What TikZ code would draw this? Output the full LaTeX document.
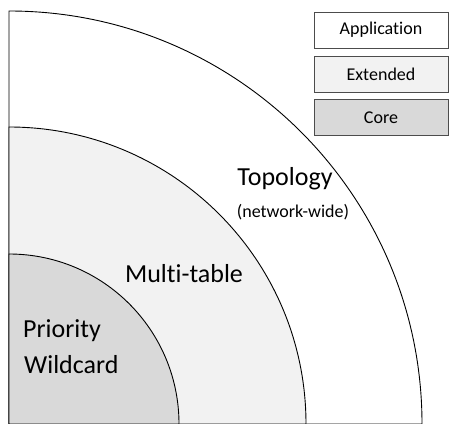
\documentclass[tikz,border=0pt]{standalone}
\usepackage{fontspec}
\setmainfont{Carlito}[Ligatures=NoCommon]
\usetikzlibrary{positioning}

\definecolor{extgray}{HTML}{F2F2F2}
\definecolor{coregray}{HTML}{D9D9D9}

\tikzset{
  ring/.style={draw=black, line width=0.9pt},
  bigtext/.style={font=\fontsize{26}{30}\selectfont, inner sep=0pt},
  smalltext/.style={font=\fontsize{18}{21}\selectfont, inner sep=0pt},
  legendbox/.style={draw=black!70, line width=0.7pt, minimum width=134pt,
    minimum height=36pt, inner sep=0pt, font=\fontsize{18}{21}\selectfont}
}

\begin{document}
\begin{tikzpicture}[x=1pt,y=1pt]
    \useasboundingbox (0,0) rectangle (449,423);
    \clip (0,0) rectangle (449,423);
    % quarter rings, outer first
    \filldraw [ring, fill=white] (9,-1) -- (9,412) arc (90:0:413) -- cycle;
    \filldraw [ring, fill=extgray] (9,-1) -- (9,296) arc (90:0:297) -- cycle;
    \filldraw [ring, fill=coregray] (9,-1) -- (9,169) arc (90:0:170) -- cycle;
    % ring labels
    \node [bigtext, anchor=base] (topo) at (285,237) {Topology};
    \node [smalltext, anchor=base] (topowide) at (293,205) {(network-wide)};
    \node [bigtext, anchor=base] (multi) at (184,141) {Multi-table};
    \node [bigtext, anchor=base west] (prio) at (23,86) {Priority};
    \node [bigtext, anchor=base west] (wild) at (24,50) {Wildcard};
    % legend
    \node [legendbox, fill=white] (app) at (381,393) {Application};
    \node [legendbox, fill=extgray] (ext) at (381,349) {Extended};
    \node [legendbox, fill=coregray] (core) at (381,305.5) {Core};
\end{tikzpicture}
\end{document}
